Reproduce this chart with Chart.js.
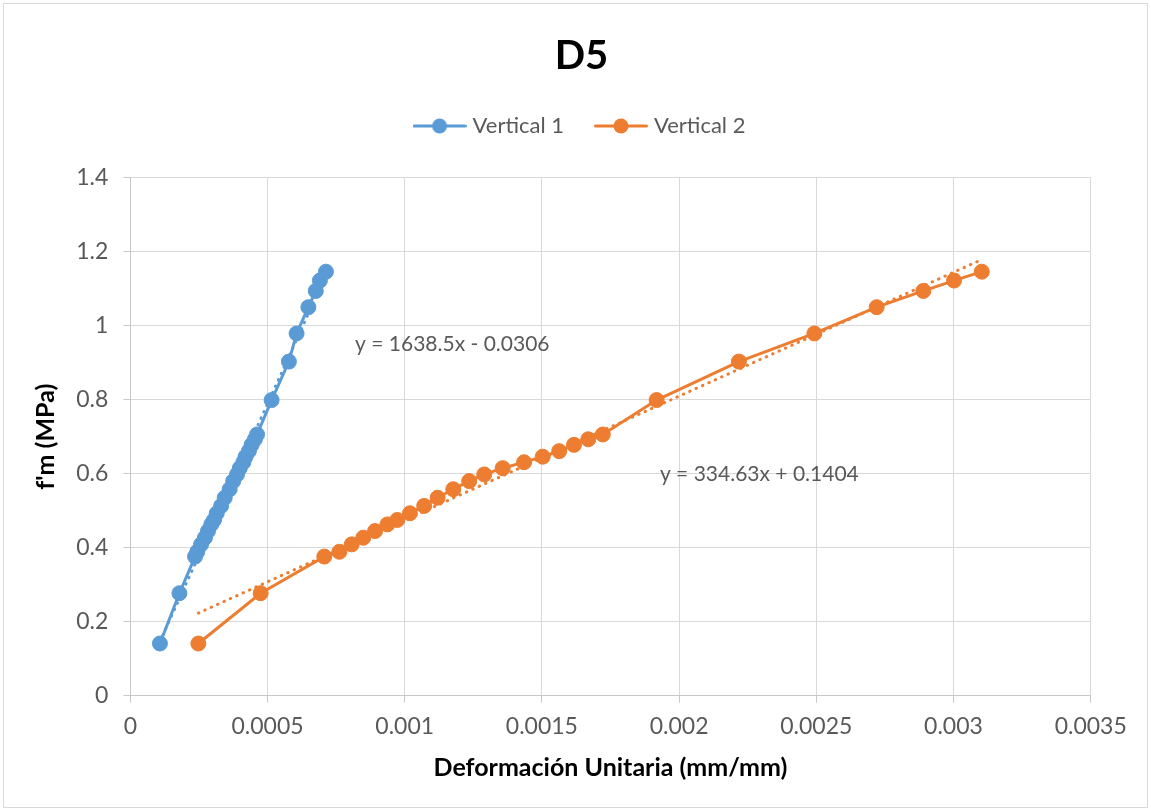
<!DOCTYPE html>
<html>
<head>
<meta charset="utf-8">
<script src="https://cdn.jsdelivr.net/npm/chart.js@4/dist/chart.umd.min.js"></script>
<style>
  html, body { margin: 0; padding: 0; background: #fff; }
  #wrap { width: 1151px; height: 811px; position: relative; }
</style>
</head>
<body>
<div id="wrap"><canvas id="chart"></canvas></div>
<script>
// f'm (MPa), same load steps for both gauges
const fm = [0.141, 0.277, 0.376, 0.389, 0.409, 0.427, 0.445, 0.463, 0.475, 0.493,
  0.513, 0.535, 0.558, 0.580, 0.598, 0.615, 0.631, 0.646, 0.661, 0.678,
  0.693, 0.706, 0.799, 0.903, 0.979, 1.050, 1.094, 1.122, 1.146];

// deformacion unitaria (mm/mm)
const vertical1 = [0.000108, 0.000179, 0.000236, 0.000244, 0.000258, 0.000272, 0.000283, 0.000295, 0.000305, 0.000315,
  0.000331, 0.000344, 0.000362, 0.000375, 0.000389, 0.000399, 0.000412, 0.000420, 0.000432, 0.000442,
  0.000454, 0.000462, 0.000515, 0.000578, 0.000606, 0.000649, 0.000676, 0.000691, 0.000713];
const vertical2 = [0.000248, 0.000475, 0.000707, 0.000762, 0.000807, 0.000849, 0.000892, 0.000937, 0.000973, 0.001019,
  0.001071, 0.001120, 0.001177, 0.001235, 0.001290, 0.001357, 0.001435, 0.001503, 0.001563, 0.001617,
  0.001669, 0.001722, 0.001918, 0.002218, 0.002493, 0.002720, 0.002890, 0.003002, 0.003103];

const seriesNames = ['Vertical 1', 'Vertical 2'];
const seriesColors = ['#5B9BD5', '#ED7D31'];

// linear trendlines as shown on the chart
const trend1 = { slope: 1638.5, intercept: -0.0306, label: 'y = 1638.5x - 0.0306', at: [0.000819, 0.9505] };
const trend2 = { slope: 334.63, intercept: 0.1404, label: 'y = 334.63x + 0.1404', at: [0.00193, 0.599] };

const xTicks = { min: 0, max: 0.0035, step: 0.0005 };
const yTicks = { min: 0, max: 1.4, step: 0.2 };

const FONT = 'Lato, "Open Sans", sans-serif';
const TEXT = '#595959';

function points(xs) {
  return xs.map((x, i) => ({ x: x, y: fm[i] }));
}

function trendPoints(xs, t) {
  const lo = Math.min(...xs), hi = Math.max(...xs);
  return [lo, hi].map(x => ({ x: x, y: t.slope * x + t.intercept }));
}

// legend swatch: line with a dot on it
function swatch(color) {
  const c = document.createElement('canvas');
  c.width = 54; c.height = 16;
  const g = c.getContext('2d');
  g.strokeStyle = color; g.lineWidth = 3; g.lineCap = 'round';
  g.beginPath(); g.moveTo(1.5, 8); g.lineTo(52.5, 8); g.stroke();
  g.fillStyle = color;
  g.beginPath(); g.arc(27, 8, 7.5, 0, Math.PI * 2); g.fill();
  return c;
}
const swatches = seriesColors.map(swatch);

const extras = {
  id: 'extras',
  afterLayout(chart) {
    // title and legend are centred on the whole chart, not on the plot
    [chart.titleBlock, chart.legend].forEach(b => {
      if (!b) return;
      b.left = 0; b.right = 1163; b.width = 1163;
    });
  },
  afterDraw(chart) {
    const ctx = chart.ctx;
    const xs = chart.scales.x, ys = chart.scales.y;
    ctx.save();
    ctx.font = '21px ' + FONT;
    ctx.fillStyle = TEXT;
    ctx.textBaseline = 'middle';
    ctx.textAlign = 'left';
    [trend1, trend2].forEach(t => {
      ctx.fillText(t.label, xs.getPixelForValue(t.at[0]), ys.getPixelForValue(t.at[1]));
    });
    ctx.strokeStyle = '#d9d9d9';
    ctx.lineWidth = 1;
    ctx.strokeRect(3.5, 3.5, chart.width - 7, chart.height - 7);
    ctx.restore();
  }
};

const mainSet = (i, xs) => ({
  label: seriesNames[i],
  data: points(xs),
  showLine: true,
  borderColor: seriesColors[i],
  backgroundColor: seriesColors[i],
  borderWidth: 3,
  pointRadius: 7.5,
  pointBorderWidth: 1,
  pointBackgroundColor: seriesColors[i],
  pointBorderColor: seriesColors[i],
  order: 2
});

const trendSet = (i, xs, t) => ({
  label: 'trend' + i,
  data: trendPoints(xs, t),
  showLine: true,
  borderColor: seriesColors[i],
  borderWidth: 3,
  borderDash: [0.5, 6.5],
  borderCapStyle: 'round',
  pointRadius: 0,
  order: 1
});

new Chart(document.getElementById('chart'), {
  type: 'scatter',
  data: {
    datasets: [
      mainSet(0, vertical1),
      mainSet(1, vertical2),
      trendSet(0, vertical1, trend1),
      trendSet(1, vertical2, trend2)
    ]
  },
  options: {
    responsive: true,
    maintainAspectRatio: false,
    animation: false,
    layout: { padding: { left: 0, right: 60.3, top: 0, bottom: 0 } },
    plugins: {
      tooltip: { enabled: false },
      title: {
        display: true,
        text: 'D5',
        color: '#000',
        font: { family: FONT, size: 40, weight: 'bold', lineHeight: 1.2 },
        padding: { top: 32, bottom: 0 }
      },
      subtitle: {
        display: true,
        text: ' ',
        weight: 500,
        font: { size: 10, lineHeight: 1 },
        padding: { top: 20.7, bottom: 0 }
      },
      legend: {
        display: true,
        position: 'top',
        labels: {
          color: TEXT,
          font: { family: FONT, size: 22 },
          usePointStyle: true,
          pointStyleWidth: 44,
          padding: 35,
          filter: item => item.datasetIndex < 2,
          generateLabels(chart) {
            return Chart.defaults.plugins.legend.labels.generateLabels(chart).map(item => {
              if (item.datasetIndex < 2) item.pointStyle = swatches[item.datasetIndex];
              return item;
            });
          }
        }
      }
    },
    scales: {
      x: {
        type: 'linear',
        min: xTicks.min,
        max: xTicks.max,
        afterFit(scale) { scale.height = 115.3; },
        ticks: {
          stepSize: xTicks.step,
          color: TEXT,
          font: { family: FONT, size: 23 },
          padding: 10,
          maxRotation: 0,
          callback: v => String(+v.toFixed(4))
        },
        grid: { color: '#d9d9d9', lineWidth: 1, tickLength: 7, tickColor: '#c8c8c8' },
        border: { color: '#c8c8c8', width: 1 },
        title: {
          display: true,
          text: 'Deformación Unitaria (mm/mm)',
          color: '#000',
          font: { family: FONT, size: 25, weight: 'bold', lineHeight: 1.2 },
          padding: { top: 0, bottom: 28 }
        }
      },
      y: {
        type: 'linear',
        min: yTicks.min,
        max: yTicks.max,
        afterFit(scale) { scale.width = 130.3; },
        ticks: {
          stepSize: yTicks.step,
          color: TEXT,
          font: { family: FONT, size: 23 },
          padding: 15,
          callback: v => String(+v.toFixed(1))
        },
        grid: { color: '#d9d9d9', lineWidth: 1, tickLength: 7, tickColor: '#c8c8c8' },
        border: { color: '#c8c8c8', width: 1 },
        title: {
          display: true,
          text: "f'm (MPa)",
          color: '#000',
          font: { family: FONT, size: 25, weight: 'bold', lineHeight: 1.2 },
          padding: { top: 31, bottom: 0 }
        }
      }
    }
  },
  plugins: [extras]
});
</script>
</body>
</html>
